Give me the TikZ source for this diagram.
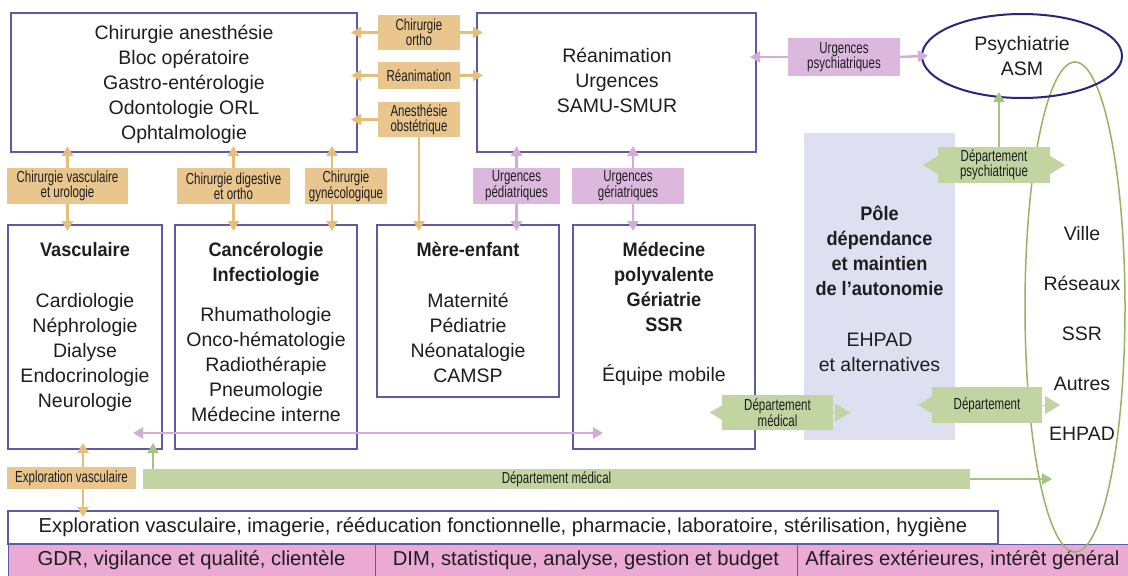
\documentclass[tikz,border=0pt]{standalone}
\usepackage{fontspec}
\setmainfont{Liberation Sans}[BoldFeatures={FakeStretch=0.93}]
\newfontfamily\condf[FakeStretch=0.72]{Liberation Sans}
\usetikzlibrary{arrows.meta,shapes.geometric}
\definecolor{boxc}{RGB}{95,90,165}
\definecolor{psyc}{RGB}{40,40,120}
\definecolor{orf}{RGB}{233,198,142}
\definecolor{ora}{RGB}{230,190,120}
\definecolor{lif}{RGB}{220,184,222}
\definecolor{lia}{RGB}{212,172,218}
\definecolor{grf}{RGB}{193,212,162}
\definecolor{gra}{RGB}{165,195,130}
\definecolor{gre}{RGB}{150,180,100}
\definecolor{polef}{RGB}{222,223,241}
\definecolor{pinkf}{RGB}{234,170,212}
\definecolor{tc}{RGB}{30,30,30}
\begin{document}
\begin{tikzpicture}[x=1pt,y=-1pt,
  box/.style={draw=boxc,line width=1.5pt,inner sep=0pt,outer sep=0pt,fill=white},
  txt/.style={font=\fontsize{19.5pt}{25pt}\selectfont,align=center,inner sep=0pt,text=tc},
  lab/.style={font=\condf\fontsize{16pt}{15pt}\selectfont,align=center,inner sep=0pt,outer sep=0pt,text=tc},
  olab/.style={lab,fill=orf},
  llab/.style={lab,fill=lif},
  glab/.style={lab,fill=grf},
  pinkc/.style={draw=boxc,line width=1pt,fill=pinkf,inner sep=0pt,outer sep=0pt,minimum height=32pt,font=\fontsize{20.2pt}{22pt}\selectfont,text=tc},
  oarr/.style={draw=ora,line width=2.5pt,-{Triangle[length=10pt,width=11pt]},shorten >=-6pt},
  larr/.style={draw=lia,line width=2.5pt,-{Triangle[length=10pt,width=11pt]},shorten >=-6pt},
  ldarr/.style={draw=lia,line width=2.5pt,{Triangle[length=10pt,width=11pt]}-{Triangle[length=10pt,width=11pt]}},
  garr/.style={draw=gra,line width=2pt,-{Triangle[length=10pt,width=11pt]},shorten >=-6pt},
  gtip/.style={draw=grf,fill=grf,line width=0.1pt,-{Triangle[length=15pt,width=18pt]}}
]
\useasboundingbox (0,0) rectangle (1128,576);
\fill[white] (0,0) rectangle (1128,576);

% background pole
\node[fill=polef,minimum width=151pt,minimum height=307pt,inner sep=0pt,outer sep=0pt] (pole) at (879.5,286.5) {};

% boxes
\node[box,minimum width=346pt,minimum height=139pt] (tl) at (184,82.5) {};
\node[box,minimum width=279pt,minimum height=139pt] (rea) at (616.5,82.5) {};
\node[box,minimum width=154pt,minimum height=224pt] (vasc) at (85,337) {};
\node[box,minimum width=182pt,minimum height=224pt] (canc) at (266,337) {};
\node[box,minimum width=182pt,minimum height=172pt] (mere) at (468,311) {};
\node[box,minimum width=182pt,minimum height=224pt] (med) at (664,337) {};
\node[box,minimum width=990pt,minimum height=33pt,font=\fontsize{20.2pt}{22pt}\selectfont,text=tc] (plat) at (503,527.5) {Exploration vasculaire, imagerie, rééducation fonctionnelle, pharmacie, laboratoire, stérilisation, hygiène};
\node[pinkc,minimum width=367pt] (p1) at (191.5,560) {GDR, vigilance et qualité, clientèle};
\node[pinkc,minimum width=422pt] (p2) at (586,560) {DIM, statistique, analyse, gestion et budget};
\node[pinkc,minimum width=331pt] (p3) at (962.5,560) {Affaires extérieures, intérêt général};

% ellipses
\node[draw=gre,line width=1.5pt,ellipse,minimum width=100pt,minimum height=490pt,inner sep=0pt,outer sep=0pt] (ext) at (1075,307) {};
\node[draw=psyc,line width=2pt,ellipse,minimum width=200pt,minimum height=84pt,inner sep=0pt,outer sep=0pt,txt] (psy) at (1022,56) {Psychiatrie\\ASM};

% box texts
\node[txt,anchor=north] (tlt) at (184,24.8) {Chirurgie anesthésie\\Bloc opératoire\\Gastro-entérologie\\Odontologie ORL\\Ophtalmologie};
\node[txt,anchor=north] (reat) at (617,47.8) {Réanimation\\Urgences\\SAMU-SMUR};
\node[txt,anchor=north] (vasct) at (85,241.8) {\textbf{Vasculaire}\\[26pt]Cardiologie\\Néphrologie\\Dialyse\\Endocrinologie\\Neurologie};
\node[txt,anchor=north] (canct) at (266,241.8) {\textbf{Cancérologie}\\\textbf{Infectiologie}\\[15pt]Rhumathologie\\Onco-hématologie\\Radiothérapie\\Pneumologie\\Médecine interne};
\node[txt,anchor=north] (meret) at (468,241.8) {\textbf{Mère-enfant}\\[26pt]Maternité\\Pédiatrie\\Néonatalogie\\CAMSP};
\node[txt,anchor=north] (medt) at (664,241.8) {\textbf{Médecine}\\\textbf{polyvalente}\\\textbf{Gériatrie}\\\textbf{SSR}\\[25pt]Équipe mobile};
\node[txt,anchor=north] (polet) at (879.5,205.8) {\textbf{Pôle}\\\textbf{dépendance}\\\textbf{et maintien}\\\textbf{de l’autonomie}\\[26pt]EHPAD\\et alternatives};
\node[txt,anchor=north] (extt) at (1082,225.8) {Ville\\[25pt]Réseaux\\[25pt]SSR\\[25pt]Autres\\[25pt]EHPAD};

% labels
\node[olab,minimum width=82pt,minimum height=35pt] (ortho) at (419,32.5) {Chirurgie\\ortho};
\node[olab,minimum width=82pt,minimum height=27pt] (rlab) at (419,75.5) {Réanimation};
\node[olab,minimum width=82pt,minimum height=35pt] (anes) at (419,119.5) {Anesthésie\\obstétrique};
\node[olab,minimum width=121pt,minimum height=36pt] (cvas) at (67.5,186) {Chirurgie vasculaire\\et urologie};
\node[olab,minimum width=113pt,minimum height=36pt] (cdig) at (233.5,186) {Chirurgie digestive\\et ortho};
\node[olab,minimum width=82pt,minimum height=36pt] (cgyn) at (346,186) {Chirurgie\\gynécologique};
\node[llab,minimum width=87pt,minimum height=36pt] (uped) at (516.5,186) {Urgences\\pédiatriques};
\node[llab,minimum width=112pt,minimum height=36pt] (uger) at (628,186) {Urgences\\gériatriques};
\node[llab,minimum width=112pt,minimum height=38pt] (upsy) at (844,57) {Urgences\\psychiatriques};
\node[glab,minimum width=112pt,minimum height=36pt] (dpsy) at (994,165) {Département\\psychiatrique};
\node[glab,minimum width=111pt,minimum height=35pt] (dmed) at (777.5,412.5) {Département\\médical};
\node[glab,minimum width=110pt,minimum height=36pt] (dep) at (987,405) {Département};
\node[olab,minimum width=129pt,minimum height=22pt] (expl) at (71.5,478) {Exploration vasculaire};
\node[glab,minimum width=827pt,minimum height=20pt] (gbar) at (556.5,479) {Département médical};

% free ends
\coordinate (pa) at (133,433);
\coordinate (pb) at (603,433);
\coordinate (gend) at (1052,479);

% orange connectors
\draw[oarr] (ortho.west) -- (ortho.west -| tl.east);
\draw[oarr] (ortho.east) -- (ortho.east -| rea.west);
\draw[oarr] (rlab.west) -- (rlab.west -| tl.east);
\draw[oarr] (rlab.east) -- (rlab.east -| rea.west);
\draw[oarr] (anes.west) -- (anes.west -| tl.east);
\draw[oarr] (anes.south) -- (anes.south |- mere.north);
\draw[oarr] (cvas.north) -- (cvas.north |- tl.south);
\draw[oarr] (cvas.south) -- (cvas.south |- vasc.north);
\draw[oarr] (cdig.north) -- (cdig.north |- tl.south);
\draw[oarr] (cdig.south) -- (cdig.south |- canc.north);
\draw[oarr] ([xshift=-14pt]cgyn.north) -- ([xshift=-14pt]cgyn.north |- tl.south);
\draw[oarr] ([xshift=-14pt]cgyn.south) -- ([xshift=-14pt]cgyn.south |- canc.north);
\draw[oarr] ([xshift=11.5pt]expl.north) -- ([xshift=11.5pt]expl.north |- vasc.south);
\draw[oarr] ([xshift=11.5pt]expl.south) -- ([xshift=11.5pt]expl.south |- plat.north);

% lilac connectors
\draw[larr] (uped.north) -- (uped.north |- rea.south);
\draw[larr] (uped.south) -- (uped.south |- mere.north);
\draw[larr] ([xshift=5pt]uger.north) -- ([xshift=5pt]uger.north |- rea.south);
\draw[larr] ([xshift=5pt]uger.south) -- ([xshift=5pt]uger.south |- med.north);
\draw[larr] (upsy.west) -- (upsy.west -| rea.east);
\draw[larr] (upsy.east) -- (psy.west);
\draw[ldarr] (pa) -- (pb);

% green connectors and tips
\draw[garr] ([xshift=5pt]dpsy.north) -- ([xshift=5pt]dpsy.north |- psy.south);
\draw[garr] ([xshift=10pt]gbar.north west) -- ([xshift=10pt]gbar.north west |- vasc.south);
\draw[garr,shorten >=0pt] (gbar.east) -- (gend);
\draw[gtip] (dpsy.west) -- ++(-15,0);
\draw[gtip] (dpsy.east) -- ++(15,0);
\draw[gtip] (dmed.west) -- ++(-12,0);
\draw[gtip] (dmed.east) -- ++(17,0);
\draw[gtip] (dep.west) -- ++(-14,0);
\draw[gtip] (dep.east) -- ++(18,0);
\end{tikzpicture}
\end{document}
